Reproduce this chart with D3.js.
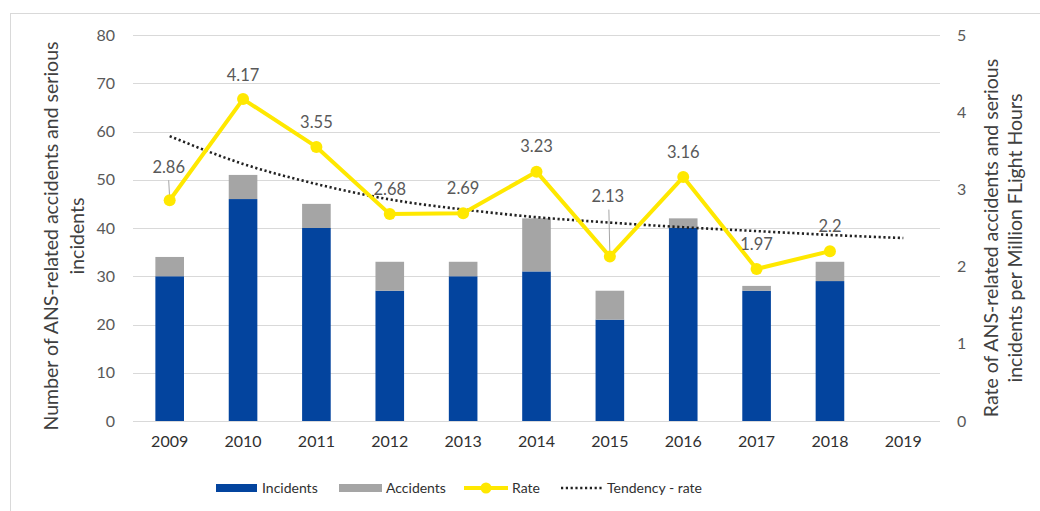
<!DOCTYPE html>
<html>
<head>
<meta charset="utf-8">
<script src="https://cdn.jsdelivr.net/npm/d3@7"></script>
<style>
  html, body { margin: 0; padding: 0; background: #fff; }
  svg { display: block; font-family: Lato, "Open Sans", sans-serif; }
</style>
</head>
<body>
<svg id="chart" width="1040" height="511"></svg>
<script>
// ---- data ----
const years = ["2009","2010","2011","2012","2013","2014","2015","2016","2017","2018","2019"];
const incidents = [30, 46, 40, 27, 30, 31, 21, 40, 27, 29, null];
const accidents = [4, 5, 5, 6, 3, 11, 6, 2, 1, 4, null];
const rate = [2.86, 4.17, 3.55, 2.68, 2.69, 3.23, 2.13, 3.16, 1.97, 2.2, null];
const tendency = [3.69, 3.33, 3.07, 2.87, 2.74, 2.64, 2.57, 2.51, 2.46, 2.41, 2.37];
const leftTicks = [0, 10, 20, 30, 40, 50, 60, 70, 80];
const rightTicks = [0, 1, 2, 3, 4, 5];
// label placement (style): vertical offset of each rate label above its point
const labelOffsets = [33, 24, 25, 25, 25, 25, 60, 25, 25, 25];
const leaderLines = [true, false, false, false, false, false, true, false, false, false];

// ---- style ----
const C = { blue: "#03449E", gray: "#A5A5A5", yellow: "#FFE800", grid: "#D9D9D9", text: "#595959", dark: "#303030" };
const tickFont = "16px", labelFont = "16.5px", titleFont = "19.5px", legendFont = "14px";

const svg = d3.select("#chart");
const m = { left: 133, right: 940, top: 35, bottom: 421 };

// border
svg.append("rect").attr("x", 10.5).attr("y", 13.5).attr("width", 1100).attr("height", 600)
  .attr("fill", "none").attr("stroke", "#D9D9D9").attr("stroke-width", 1);

const x = d3.scaleBand().domain(years).range([m.left, m.right]).paddingInner(0.61).paddingOuter(0.305);
const xc = d => x(d) + x.bandwidth() / 2;
const yL = d3.scaleLinear().domain([0, 80]).range([m.bottom, m.top]);
const yR = d3.scaleLinear().domain([0, 5]).range([m.bottom, m.top]);

// gridlines
svg.append("g").selectAll("line").data(leftTicks).join("line")
  .attr("x1", m.left).attr("x2", m.right)
  .attr("y1", d => Math.round(yL(d)) + 0.5).attr("y2", d => Math.round(yL(d)) + 0.5)
  .attr("stroke", C.grid).attr("stroke-width", 1.2);

// left axis
const axL = d3.axisLeft(yL).tickValues(leftTicks).tickSize(0).tickPadding(18);
const gL = svg.append("g").attr("transform", `translate(${m.left},0)`).call(axL);
gL.select(".domain").remove();
gL.selectAll("text").attr("fill", C.text).style("font-size", tickFont).style("font-family", "Lato, sans-serif");

// right axis
const axR = d3.axisRight(yR).tickValues(rightTicks).tickFormat(d3.format("d")).tickSize(0).tickPadding(17);
const gR = svg.append("g").attr("transform", `translate(${m.right},0)`).call(axR);
gR.select(".domain").remove();
gR.selectAll("text").attr("fill", C.text).style("font-size", tickFont).style("font-family", "Lato, sans-serif");

// x axis
const axX = d3.axisBottom(x).tickSize(0).tickPadding(15);
const gX = svg.append("g").attr("transform", `translate(0,${m.bottom})`).call(axX);
gX.select(".domain").remove();
gX.selectAll("text").attr("fill", C.dark).style("font-size", tickFont).style("font-family", "Lato, sans-serif");

// bars
const stackData = years.map((y, i) => ({ year: y, inc: incidents[i], acc: accidents[i] })).filter(d => d.inc != null);
const gb = svg.append("g");
gb.selectAll("rect.inc").data(stackData).join("rect").attr("class", "inc")
  .attr("x", d => x(d.year)).attr("width", x.bandwidth())
  .attr("y", d => yL(d.inc)).attr("height", d => yL(0) - yL(d.inc))
  .attr("fill", C.blue);
gb.selectAll("rect.acc").data(stackData).join("rect").attr("class", "acc")
  .attr("x", d => x(d.year)).attr("width", x.bandwidth())
  .attr("y", d => yL(d.inc + d.acc)).attr("height", d => yL(d.inc) - yL(d.inc + d.acc))
  .attr("fill", C.gray);

// tendency
const tData = years.map((y, i) => ({ year: y, v: tendency[i] }));
svg.append("path").datum(tData)
  .attr("d", d3.line().x(d => xc(d.year)).y(d => yR(d.v)).curve(d3.curveMonotoneX))
  .attr("fill", "none").attr("stroke", "#222").attr("stroke-width", 2.6)
  .attr("stroke-dasharray", "2.2,2.6");

// rate line
const rData = years.map((y, i) => ({ year: y, v: rate[i], i })).filter(d => d.v != null);
svg.append("path").datum(rData)
  .attr("d", d3.line().x(d => xc(d.year)).y(d => yR(d.v)))
  .attr("fill", "none").attr("stroke", C.yellow).attr("stroke-width", 4).attr("stroke-linejoin", "round");

// leader lines
svg.append("g").selectAll("line").data(rData.filter(d => leaderLines[d.i])).join("line")
  .attr("x1", d => xc(d.year) - 1).attr("y1", d => yR(d.v) - labelOffsets[d.i] + 13)
  .attr("x2", d => xc(d.year)).attr("y2", d => yR(d.v) - 2)
  .attr("stroke", "#A6A6A6").attr("stroke-width", 1);

svg.append("g").selectAll("circle").data(rData).join("circle")
  .attr("cx", d => xc(d.year)).attr("cy", d => yR(d.v)).attr("r", 6)
  .attr("fill", C.yellow);

// rate labels
svg.append("g").selectAll("text").data(rData).join("text")
  .attr("x", d => xc(d.year) - (d.i === 0 ? 1 : d.i === 6 ? 2 : 0))
  .attr("y", d => yR(d.v) - labelOffsets[d.i])
  .attr("dy", "0.35em").attr("text-anchor", "middle")
  .attr("fill", C.text).style("font-size", labelFont)
  .text(d => d.v);

// axis titles
function title(tx, ty, s) {
  svg.append("text").attr("transform", `translate(${tx},${ty}) rotate(-90)`)
    .attr("text-anchor", "middle").attr("dy", "0.35em").attr("fill", "#404040").style("font-size", titleFont)
    .text(s);
}
title(51, 236, "Number of ANS-related accidents and serious");
title(77, 236, "incidents");
title(991, 238, "Rate of ANS-related accidents and serious");
title(1015, 238, "incidents per Million FLight Hours");

// legend
const lg = svg.append("g").style("font-size", legendFont);
const ly = 488;
lg.append("rect").attr("x", 216).attr("y", ly - 4).attr("width", 41).attr("height", 8).attr("fill", C.blue);
lg.append("text").attr("x", 262).attr("y", ly).attr("dy", "0.35em").attr("fill", C.dark).text("Incidents");
lg.append("rect").attr("x", 339).attr("y", ly - 4).attr("width", 43).attr("height", 8).attr("fill", C.gray);
lg.append("text").attr("x", 386).attr("y", ly).attr("dy", "0.35em").attr("fill", C.dark).text("Accidents");
lg.append("line").attr("x1", 464).attr("x2", 508).attr("y1", ly).attr("y2", ly).attr("stroke", C.yellow).attr("stroke-width", 4);
lg.append("circle").attr("cx", 486).attr("cy", ly).attr("r", 5.5).attr("fill", C.yellow);
lg.append("text").attr("x", 512).attr("y", ly).attr("dy", "0.35em").attr("fill", C.dark).text("Rate");
lg.append("line").attr("x1", 561).attr("x2", 603).attr("y1", ly).attr("y2", ly).attr("stroke", "#222").attr("stroke-width", 2.6).attr("stroke-dasharray", "2.2,2.6");
lg.append("text").attr("x", 607).attr("y", ly).attr("dy", "0.35em").attr("fill", C.dark).text("Tendency - rate");
</script>
</body>
</html>
